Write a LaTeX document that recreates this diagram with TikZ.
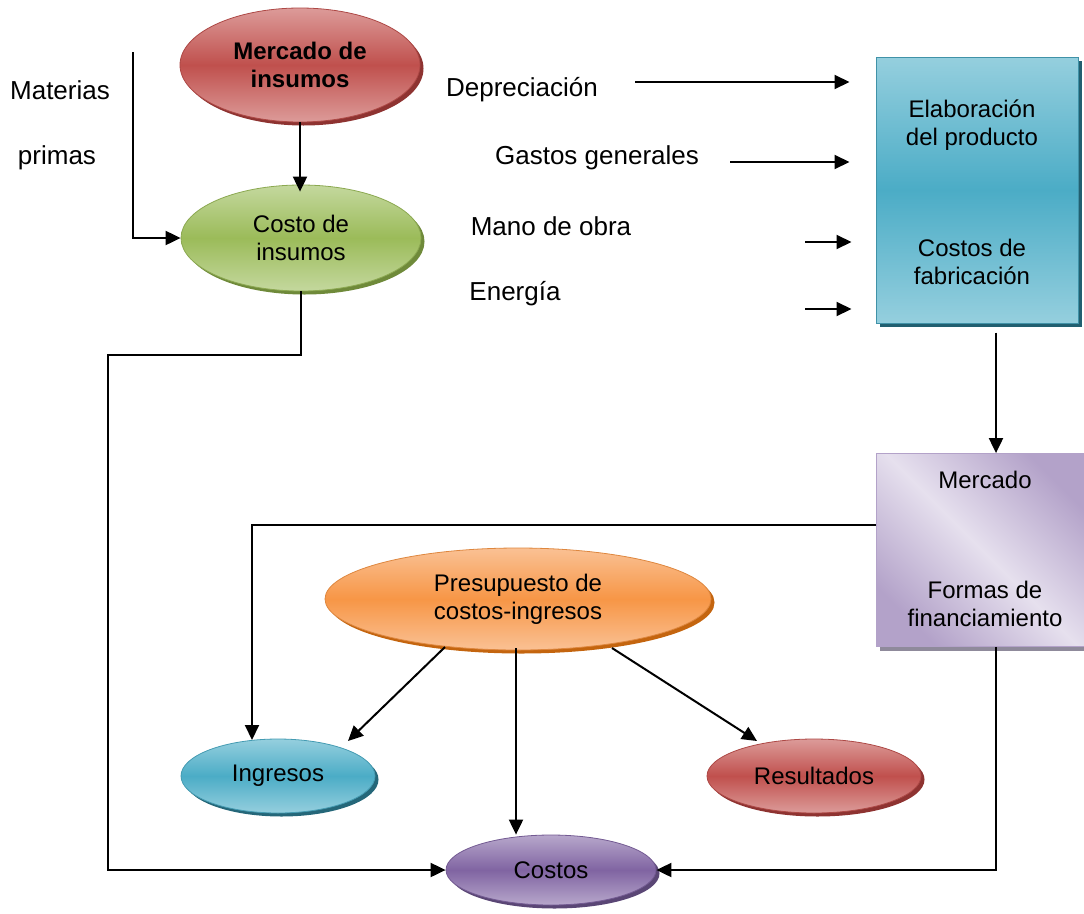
\documentclass[tikz,border=0pt]{standalone}
\usepackage{fontspec}
\setmainfont{Liberation Sans}
\usetikzlibrary{shapes.geometric,shadows,arrows.meta}

\definecolor{redLight}{HTML}{DC9B99}
\definecolor{redMid}{HTML}{C0504D}
\definecolor{redDark}{HTML}{8E3331}
\definecolor{greenLight}{HTML}{C4D89E}
\definecolor{greenMid}{HTML}{9BBB59}
\definecolor{greenDark}{HTML}{6F8A3A}
\definecolor{blueLight}{HTML}{95CFDE}
\definecolor{blueMid}{HTML}{4BACC6}
\definecolor{blueDark}{HTML}{215F70}
\definecolor{orangeLight}{HTML}{FAC194}
\definecolor{orangeMid}{HTML}{F79646}
\definecolor{orangeDark}{HTML}{C4650F}
\definecolor{purpleLight}{HTML}{B7A7CB}
\definecolor{purpleMid}{HTML}{8064A2}
\definecolor{purpleDark}{HTML}{5A4675}
\definecolor{lilacLight}{HTML}{E6E0EE}
\definecolor{lilacMid}{HTML}{B3A2C9}
\definecolor{lilacShadow}{HTML}{8F8A9B}

\newcommand{\bodyfont}{\fontsize{24}{28}\selectfont}
\newcommand{\sidefont}{\fontsize{26}{30}\selectfont}

\tikzset{
  conn/.style={line width=2pt, draw=black},
  arr/.style={conn, -{Triangle[length=15pt,width=14pt]}},
  oval/.style={ellipse, inner sep=0pt, align=center, font=\bodyfont},
  txt/.style={inner sep=0pt, align=center, font=\bodyfont},
  sidetxt/.style={inner sep=0pt, align=center, font=\sidefont},
  ovalshade/.style n args={3}{
    top color=#1, bottom color=#1, middle color=#2,
    draw=#2!90!black, line width=0.8pt,
    drop shadow={shadow xshift=3.5pt, shadow yshift=-3.5pt, fill=#3, opacity=1}},
}

\begin{document}
\begin{tikzpicture}[x=1pt, y=-1pt]
\useasboundingbox (0,0) rectangle (1084,913);

% ---------- upper left: inputs ----------
\node[oval, ovalshade={redLight}{redMid}{redDark}, minimum width=240pt, minimum height=114pt,
      font=\bodyfont\bfseries] (mi) at (300,65) {Mercado de\\insumos};
\node[oval, ovalshade={greenLight}{greenMid}{greenDark}, minimum width=240pt, minimum height=106pt]
      (ci) at (301,238) {Costo de\\insumos};

\node[sidetxt] (mat) at (60,90) {Materias};
\node[sidetxt] (pri) at (57,158) {primas};

% ---------- production block ----------
\node[draw=blueMid!85!black, line width=1pt, minimum width=202pt, minimum height=266pt,
      top color=blueLight, bottom color=blueLight, middle color=blueMid,
      drop shadow={shadow xshift=4pt, shadow yshift=-4pt, fill=blueDark, opacity=1}]
      (elab) at (977,190) {};
\node[txt] (elabT) at (972,125) {Elaboración\\del producto};
\node[txt] (fabT) at (972,262) {Costos de\\fabricación};

\node[sidetxt] (dep) at (522,90) {Depreciación};
\node[sidetxt] (gas) at (597,158) {Gastos generales};
\node[sidetxt] (man) at (551,226) {Mano de obra};
\node[sidetxt] (ene) at (515,294) {Energía};

% ---------- market block ----------
\node[draw=lilacMid, line width=0.8pt, minimum width=212pt, minimum height=193pt,
      top color=lilacMid, bottom color=lilacMid, middle color=lilacLight, shading angle=-45,
      drop shadow={shadow xshift=4pt, shadow yshift=-4pt, fill=lilacShadow, opacity=1}]
      (merc) at (982,550) {};
\node[txt] (mercT) at (985,480) {Mercado};
\node[txt] (finT) at (985,604) {Formas de\\financiamiento};

% ---------- budget and results ----------
\node[oval, ovalshade={orangeLight}{orangeMid}{orangeDark}, minimum width=386pt, minimum height=102pt]
      (pres) at (518,599) {Presupuesto de\\costos-ingresos};
\node[oval, ovalshade={blueLight}{blueMid}{blueDark!90!blueMid}, minimum width=194pt, minimum height=74pt]
      (ing) at (278,776) {Ingresos};
\node[oval, ovalshade={redLight}{redMid}{redDark}, minimum width=214pt, minimum height=74pt]
      (res) at (814,776) {Resultados};
\node[oval, ovalshade={purpleLight}{purpleMid}{purpleDark}, minimum width=210pt, minimum height=70pt]
      (cos) at (551,870) {Costos};

% ---------- connector end points ----------
\coordinate (matTop) at (133,52);
\coordinate (depS) at (635,82);
\coordinate (gasS) at (730,162);
\coordinate (manS) at (805,242);
\coordinate (eneS) at (805,309);

% ---------- connectors ----------
\draw[arr] (mi.south) -- ([yshift=-7pt]mi.south |- ci.north);
\draw[arr] (matTop) |- (ci.west);

\draw[arr, shorten >=26pt] (depS) -- (depS -| elab.west);
\draw[arr, shorten >=26pt] (gasS) -- (gasS -| elab.west);
\draw[arr, shorten >=24pt] (manS) -- (manS -| elab.west);
\draw[arr, shorten >=24pt] (eneS) -- (eneS -| elab.west);

\draw[arr] ([xshift=19pt,yshift=-9pt]elab.south) -- ([xshift=14pt]merc.north);

\draw[arr] (ci.south) -- (301,355) -- (108,355) |- (cos.west);
\draw[arr] ([yshift=-72pt]merc.north west) -| (252,740);
\draw[arr] ([xshift=14pt]merc.south) |- (cos.east);

\draw[arr] (445,647) -- (348,741);
\draw[arr] (516,648) -- (cos.north -| 516,0);
\draw[arr] (612,648) -- (757,741);
\end{tikzpicture}
\end{document}
